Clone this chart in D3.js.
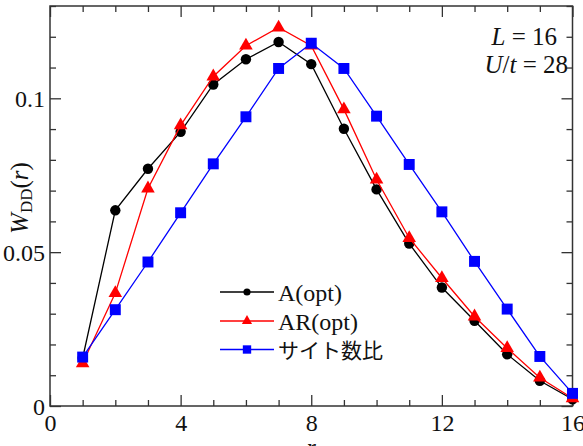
<!DOCTYPE html>
<html><head><meta charset="utf-8">
<script src="https://cdn.jsdelivr.net/npm/d3@7"></script>
<style>html,body{margin:0;background:#fff;}
svg text{font-family:"Liberation Serif";}</style></head>
<body>
<svg id="chart" width="583" height="446"></svg>
<script>
const rValues = [1,2,3,4,5,6,7,8,9,10,11,12,13,14,15,16];
const seriesA = [0.0156,0.0636,0.0771,0.0891,0.1045,0.1127,0.1183,0.1111,0.0901,0.0704,0.0528,0.0385,0.0277,0.0168,0.0082,0.0022];
const seriesAR = [0.0139,0.0367,0.0707,0.0912,0.1071,0.1171,0.1230,0.1171,0.0964,0.0736,0.0546,0.0416,0.0291,0.0188,0.0092,0.0025];
const seriesSite = [0.0159,0.0313,0.0468,0.0628,0.0787,0.0940,0.1097,0.1179,0.1097,0.0942,0.0785,0.0631,0.0470,0.0315,0.0161,0.0041];
const seriesNames = ["A(opt)","AR(opt)","サイト数比"];
const xMajorTicks = [0,4,8,12,16];
const yMajorTicks = [0,0.05,0.1];
const yTickLabels = ["0","0.05","0.1"];

const svg = d3.select("#chart");
const mL = 50, mR = 572.5, mT = 6, mB = 406;
const x = d3.scaleLinear().domain([0,16]).range([mL,mR]);
const y = d3.scaleLinear().domain([0,0.13]).range([mB,mT]);
const SERIF = '"Liberation Serif"';
const CJK = '"Noto Sans CJK JP"';
const axisColor = "#333";

const xMinor = d3.range(0,17,1).filter(v => !xMajorTicks.includes(v));
const yMinor = d3.range(1,14,1).map(v => v/100).filter(v => !yMajorTicks.some(t => Math.abs(t-v)<1e-9));

function styleAxis(g){
  g.select(".domain").remove();
  g.selectAll(".tick line").attr("stroke",axisColor).attr("stroke-width",1.3);
  g.selectAll(".tick text").style("font-family",SERIF).style("font-size","24px").attr("fill","#111");
}
function tickAxis(axisFn, scale, pos, vals, len, labels){
  const a = axisFn(scale).tickValues(vals).tickSize(-len);
  if (!labels) a.tickFormat("");
  else a.tickFormat(labels);
  const g = svg.append("g").attr("transform", pos).call(a).call(styleAxis);
  return g;
}
// minor + major ticks on all four sides
tickAxis(d3.axisBottom, x, `translate(0,${mB})`, xMinor, 6);
const gxb = tickAxis(d3.axisBottom, x, `translate(0,${mB})`, xMajorTicks, 11, d3.format("d"));
gxb.selectAll(".tick text").attr("y",25).attr("dy",null);
tickAxis(d3.axisTop, x, `translate(0,${mT})`, xMinor, 6);
tickAxis(d3.axisTop, x, `translate(0,${mT})`, xMajorTicks, 11);
tickAxis(d3.axisLeft, y, `translate(${mL},0)`, yMinor, 6);
const gyl = tickAxis(d3.axisLeft, y, `translate(${mL},0)`, yMajorTicks, 11, (d,i)=>yTickLabels[i]);
gyl.selectAll(".tick text").attr("x",-5).attr("dy","0.34em");
tickAxis(d3.axisRight, y, `translate(${mR},0)`, yMinor, 6);
tickAxis(d3.axisRight, y, `translate(${mR},0)`, yMajorTicks, 11);

// frame
svg.append("rect").attr("x",mL).attr("y",mT).attr("width",mR-mL).attr("height",mB-mT)
  .attr("fill","none").attr("stroke",axisColor).attr("stroke-width",1.5);

const shapes = {circle:d3.symbolCircle, triangle:d3.symbolTriangle, square:d3.symbolSquare};
const series = [
  {name:seriesNames[0], vals:seriesA, color:"#000000", shape:"circle", size:85, legSize:40},
  {name:seriesNames[1], vals:seriesAR, color:"#ff0000", shape:"triangle", size:80, legSize:45},
  {name:seriesNames[2], vals:seriesSite, color:"#0000ff", shape:"square", size:120, legSize:70}
];
const line = d3.line().x(d=>x(d[0])).y(d=>y(d[1]));
series.forEach(s=>{
  const pts = rValues.map((r,i)=>[r,s.vals[i]]);
  svg.append("path").datum(pts).attr("d",line).attr("fill","none").attr("stroke",s.color).attr("stroke-width",1.3);
  svg.append("g").selectAll("path").data(pts).join("path")
    .attr("transform",d=>`translate(${x(d[0])},${y(d[1])})`)
    .attr("d",d3.symbol().type(shapes[s.shape]).size(s.size)).attr("fill",s.color);
});

// legend
const legY = [292, 321, 349.5];
series.forEach((s,i)=>{
  svg.append("line").attr("x1",220).attr("x2",274).attr("y1",legY[i]).attr("y2",legY[i])
    .attr("stroke",s.color).attr("stroke-width",1.3);
  svg.append("path").attr("transform",`translate(247,${legY[i]})`)
    .attr("d",d3.symbol().type(shapes[s.shape]).size(s.legSize)())
    .attr("fill",s.color);
  svg.append("text").attr("x",278).attr("y",legY[i]+(i===2?8:9))
    .style("font-family", i===2 ? CJK : SERIF)
    .style("font-size", i===2 ? "21px" : "24px").attr("fill","#111").text(s.name);
});

// annotation
const t1 = svg.append("text").attr("x",557).attr("y",45).attr("text-anchor","end")
  .style("font-family",SERIF).style("font-size","25px").attr("fill","#111");
t1.append("tspan").style("font-style","italic").text("L");
t1.append("tspan").text(" = 16");
const t2 = svg.append("text").attr("x",568).attr("y",73).attr("text-anchor","end")
  .style("font-family",SERIF).style("font-size","25px").attr("fill","#111");
t2.append("tspan").style("font-style","italic").text("U");
t2.append("tspan").text("/");
t2.append("tspan").style("font-style","italic").text("t");
t2.append("tspan").text(" = 28");

// y label
const yl = svg.append("text").attr("transform","translate(28,198) rotate(-90)")
  .attr("text-anchor","middle").style("font-family",SERIF).style("font-size","25px").attr("fill","#111");
yl.append("tspan").style("font-style","italic").text("W");
yl.append("tspan").style("font-size","17px").attr("dy",4).text("DD");
yl.append("tspan").attr("dy",-4).text("(");
yl.append("tspan").style("font-style","italic").text("r");
yl.append("tspan").text(")");

// x label (mostly cut off, as in the reference)
svg.append("text").attr("x",x(8)).attr("y",455).attr("text-anchor","middle")
  .style("font-family",SERIF).style("font-size","24px").style("font-style","italic").attr("fill","#111").text("r");
</script>
</body></html>
